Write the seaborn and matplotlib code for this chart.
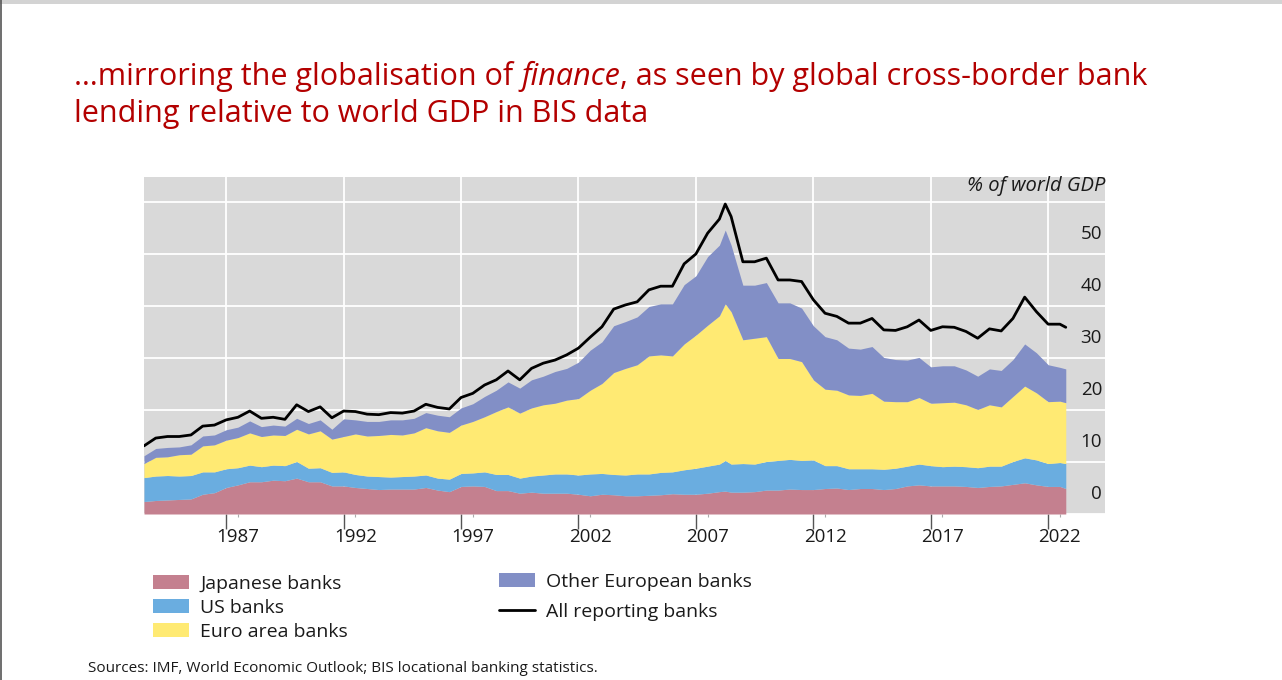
import numpy as np
import pandas as pd
import matplotlib
matplotlib.use('Agg')
import matplotlib.pyplot as plt
import matplotlib.transforms as mtransforms
from matplotlib.patches import Patch, Rectangle
from matplotlib.lines import Line2D
import seaborn as sns

# half-yearly readings (extra point at the 2008 peak)
years = np.concatenate([np.arange(1983.5, 2008.01, 0.5), [2008.25],
                        np.arange(2008.5, 2022.51, 0.5), [2022.75]])

japanese = [2.4, 2.6, 2.7, 2.8, 2.9, 3.8, 4.1, 5.1, 5.6, 6.2,
            6.2, 6.5, 6.4, 6.9, 6.2, 6.2, 5.4, 5.4, 5.1, 4.9,
            4.7, 4.8, 4.8, 4.8, 5.1, 4.6, 4.3, 5.3, 5.4, 5.3,
            4.5, 4.5, 4.0, 4.2, 4.0, 4.0, 4.0, 3.8, 3.5, 3.8,
            3.7, 3.5, 3.5, 3.6, 3.7, 3.9, 3.8, 3.8, 4.0, 4.3,
            4.4,
            4.2, 4.2, 4.3, 4.6, 4.6, 4.8, 4.7, 4.7, 4.9, 5.0,
            4.7, 4.9, 4.9, 4.7, 4.9, 5.4, 5.6, 5.4, 5.4, 5.4,
            5.3, 5.1, 5.3, 5.4, 5.7, 6.0, 5.6, 5.3, 5.3,
            4.9]
us = [4.6, 4.7, 4.7, 4.5, 4.5, 4.3, 4.0, 3.6, 3.3, 3.2,
      2.9, 2.9, 2.9, 3.2, 2.6, 2.7, 2.6, 2.7, 2.5, 2.4,
      2.5, 2.3, 2.4, 2.5, 2.4, 2.3, 2.4, 2.5, 2.5, 2.8,
      3.1, 3.1, 2.9, 3.1, 3.5, 3.7, 3.7, 3.7, 4.2, 4.0,
      3.9, 4.0, 4.2, 4.1, 4.3, 4.2, 4.7, 5.0, 5.2, 5.3,
      5.9,
      5.4, 5.5, 5.3, 5.5, 5.7, 5.7, 5.6, 5.7, 4.4, 4.3,
      4.0, 3.8, 3.8, 3.9, 3.9, 3.8, 4.0, 3.9, 3.7, 3.8,
      3.8, 3.8, 3.9, 3.8, 4.4, 4.8, 4.8, 4.4, 4.6,
      4.8]
euro_area = [2.7, 3.6, 3.6, 4.1, 4.1, 5.0, 5.2, 5.5, 5.8, 6.2,
             5.8, 5.8, 5.8, 6.2, 6.6, 7.1, 6.4, 6.8, 7.8, 7.7,
             7.9, 8.2, 8.0, 8.3, 9.1, 9.1, 9.0, 9.3, 9.9, 10.6,
             12.1, 13.0, 12.5, 13.1, 13.5, 13.6, 14.2, 14.7, 16.1, 17.3,
             19.6, 20.5, 21.0, 22.7, 22.6, 22.3, 24.2, 25.6, 27.1, 28.5,
             30.1,
             29.3, 23.8, 24.2, 24.0, 19.6, 19.4, 19.0, 15.4, 14.7, 14.5,
             14.2, 14.1, 14.5, 13.1, 12.8, 12.4, 12.8, 12.0, 12.3, 12.3,
             11.9, 11.2, 11.8, 11.4, 12.5, 13.8, 12.9, 11.9, 11.8,
             11.7]
other_europe = [1.5, 1.7, 1.8, 1.5, 1.8, 1.9, 1.9, 2.0, 2.0, 2.3,
                1.9, 1.9, 1.8, 2.1, 2.0, 2.1, 1.9, 3.4, 2.7, 2.8,
                2.7, 2.8, 2.9, 2.8, 2.9, 3.0, 3.0, 3.3, 3.4, 3.9,
                4.1, 4.8, 4.8, 5.4, 5.5, 6.1, 6.1, 7.0, 7.7, 8.0,
                9.0, 9.0, 9.2, 9.5, 9.8, 10.0, 11.4, 11.4, 13.2, 13.6,
                14.2,
                12.8, 10.5, 10.2, 10.4, 10.7, 10.7, 10.3, 10.4, 10.1, 9.7,
                9.0, 8.9, 9.0, 8.4, 8.1, 8.0, 7.7, 7.0, 7.1, 7.0,
                6.7, 6.4, 6.9, 7.0, 7.1, 8.1, 7.7, 7.1, 6.5,
                6.5]
all_banks = [13.1, 14.6, 14.9, 14.9, 15.2, 16.9, 17.1, 18.1, 18.6, 19.8,
             18.4, 18.6, 18.2, 21.0, 19.7, 20.6, 18.5, 19.8, 19.7, 19.2,
             19.1, 19.5, 19.4, 19.8, 21.1, 20.5, 20.2, 22.4, 23.2, 24.8,
             25.8, 27.5, 25.8, 28.0, 29.0, 29.6, 30.6, 31.9, 34.0, 36.0,
             39.4, 40.2, 40.8, 43.1, 43.8, 43.8, 48.1, 50.0, 54.0, 56.7,
             59.6,
             57.2, 48.5, 48.5, 49.2, 45.0, 45.0, 44.7, 41.2, 38.6, 38.0,
             36.7, 36.7, 37.6, 35.4, 35.3, 36.0, 37.3, 35.3, 36.0, 35.9,
             35.1, 33.8, 35.6, 35.2, 37.6, 41.7, 38.9, 36.5, 36.5,
             35.9]

series_names = ['Japanese banks', 'US banks', 'Euro area banks', 'Other European banks']
series_colors = ['#c4808f', '#6aade0', '#ffea73', '#828fc6']
tick_years = [1987, 1992, 1997, 2002, 2007, 2012, 2017, 2022]
y_ticks = [0, 10, 20, 30, 40, 50]

df = pd.DataFrame({'year': years, 'Japanese banks': japanese, 'US banks': us,
                   'Euro area banks': euro_area, 'Other European banks': other_europe,
                   'All reporting banks': all_banks})

sns.set_style('dark', {'axes.facecolor': '#d9d9d9'})
plt.rcParams['font.family'] = ['Open Sans', 'DejaVu Sans']

title_red = '#b30000'
text_col = '#1a1a1a'

fig = plt.figure(figsize=(12.82, 6.8), dpi=100)
ax = fig.add_axes([144 / 1282, 1 - 514 / 680, (1105 - 144) / 1282, (514 - 177) / 680])

ax.stackplot(df['year'], *[df[n] for n in series_names], colors=series_colors,
             linewidth=0, zorder=2)
sns.lineplot(data=df, x='year', y='All reporting banks', color='black', lw=2,
             ax=ax, zorder=3)

ax.set_xlim(1983.5, 2024.42)
ax.set_ylim(0, 64.8)
ax.set_xlabel('')
ax.set_ylabel('')

# gridlines at year starts, labels centred on mid-year
ax.set_xticks(tick_years)
ax.set_xticklabels([])
ax.set_xticks([y + 0.5 for y in tick_years], labels=[str(y) for y in tick_years], minor=True)
ax.tick_params(axis='x', which='major', bottom=True, length=11, width=1.0, color='#555555')
ax.tick_params(axis='x', which='minor', bottom=True, length=2, width=0.8, color='#aaaaaa',
               labelsize=13.5, labelcolor=text_col, pad=8)

ax.set_yticks(list(range(0, 61, 10)))
ax.tick_params(axis='y', left=False, right=False, labelleft=False, labelright=False)
ax.grid(True, which='major', color='white', linewidth=1.3, zorder=1)
ax.set_axisbelow(True)
for s in ax.spines.values():
    s.set_visible(False)

# y labels sit inside the panel, above their gridline
lab_trans = mtransforms.offset_copy(ax.get_yaxis_transform(), fig=fig, x=0, y=20, units='dots')
for v in y_ticks:
    ax.text(0.9969, v, str(v), transform=lab_trans, ha='right', va='center',
            fontsize=13.5, color=text_col)
ax.text(1.0, 1 - 9 / 337, '% of world GDP', transform=ax.transAxes, ha='right', va='center',
        fontsize=14.5, style='italic', color=text_col)

# title with italic word
t1 = fig.text(74 / 1282, 1 - 85 / 680, '\u2026mirroring the globalisation of ',
              color=title_red, fontsize=22, va='baseline')
t2 = ax.annotate('finance', xy=(1, 0), xycoords=t1, va='bottom', ha='left',
                 color=title_red, fontsize=22, style='italic', annotation_clip=False)
ax.annotate(', as seen by global cross-border bank', xy=(1, 0), xycoords=t2, va='bottom',
            ha='left', color=title_red, fontsize=22, annotation_clip=False)
fig.text(74 / 1282, 1 - 122 / 680, 'lending relative to world GDP in BIS data',
         color=title_red, fontsize=22, va='baseline')

# legends
h1 = [Patch(facecolor=c, edgecolor='none', label=n)
      for c, n in zip(series_colors[:3], series_names[:3])]
h2 = [Patch(facecolor=series_colors[3], edgecolor='none', label=series_names[3]),
      Line2D([0], [0], color='black', lw=2, label='All reporting banks')]
leg_kw = dict(loc='upper left', frameon=False, fontsize=14, borderpad=0, borderaxespad=0,
              handlelength=1.85, handleheight=0.75, handletextpad=0.57, labelcolor=text_col)
fig.legend(handles=h1, bbox_to_anchor=(153 / 1282, 1 - 575 / 680), labelspacing=0.31, **leg_kw)
fig.legend(handles=h2, bbox_to_anchor=(499 / 1282, 1 - 573 / 680), labelspacing=0.6, **leg_kw)

fig.text(88 / 1282, 1 - 669 / 680,
         'Sources: IMF, World Economic Outlook; BIS locational banking statistics.',
         fontsize=11, va='center', color=text_col)

# slide frame bits
fig.add_artist(Rectangle((0, 1 - 4 / 680), 1, 4 / 680, transform=fig.transFigure,
                         color='#d3d3d3', lw=0))
fig.add_artist(Line2D([0.0006, 0.0006], [0, 1], transform=fig.transFigure,
                      color='#555555', lw=1.2))

fig.savefig('out.png', dpi=100, facecolor='white')
